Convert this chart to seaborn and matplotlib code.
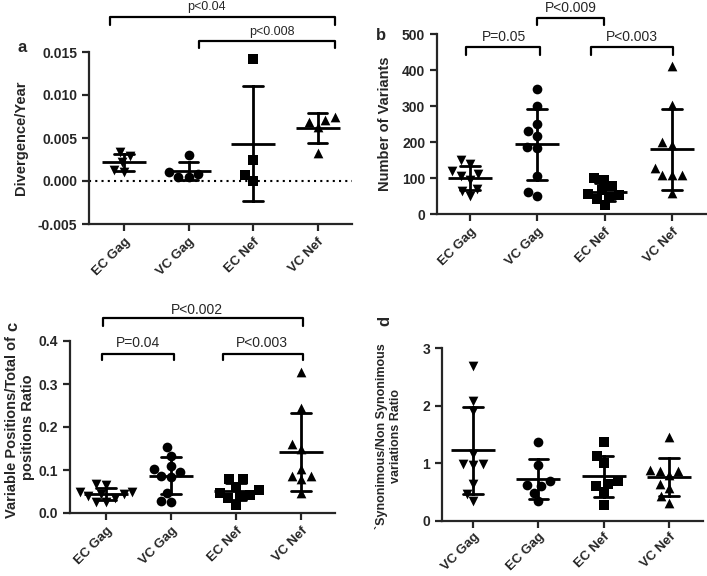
import numpy as np
import pandas as pd
import matplotlib.pyplot as plt
import seaborn as sns

sns.set_style('ticks')
plt.rcParams['font.family'] = ['Liberation Sans', 'DejaVu Sans']
plt.rcParams['font.weight'] = 'bold'
plt.rcParams['axes.labelweight'] = 'bold'
plt.rcParams['axes.unicode_minus'] = False

groups = ['EC Gag', 'VC Gag', 'EC Nef', 'VC Nef']
groups_d = ['VC Gag', 'EC Gag', 'EC Nef', 'VC Nef']
markers = ['v', 'o', 's', '^']

# a - divergence per year
div_ec_gag = [0.0034, 0.0029, 0.0022, 0.0011, 0.0013]
div_vc_gag = [0.0030, 0.00077, 0.00042, 0.0005, 0.0010]
div_ec_nef = [0.0142, 0.0025, 0.0007, 0.0000]
div_vc_nef = [0.0075, 0.0069, 0.0063, 0.0071, 0.0032]

# b - number of variants
var_ec_gag = [150, 140, 120, 110, 105, 95, 70, 65, 50]
var_vc_gag = [347, 300, 251, 230, 217, 184, 187, 105, 51, 61]
var_ec_nef = [100, 95, 78, 68, 55, 52, 48, 42, 24]
var_vc_nef = [412, 302, 200, 191, 128, 108, 108, 108, 58]

# c - variable positions ratio
pos_ec_gag = [0.068, 0.066, 0.050, 0.048, 0.045, 0.044, 0.040, 0.034, 0.026, 0.025]
pos_vc_gag = [0.154, 0.133, 0.103, 0.109, 0.096, 0.086, 0.084, 0.047, 0.026, 0.028]
pos_ec_nef = [0.078, 0.078, 0.061, 0.054, 0.047, 0.042, 0.040, 0.034, 0.019]
pos_vc_nef = [0.327, 0.245, 0.160, 0.149, 0.102, 0.087, 0.079, 0.087, 0.046]

# d - synonymous / non synonymous ratio
syn_vc_gag = [2.69, 2.08, 1.91, 1.16, 0.99, 0.97, 0.98, 0.65, 0.47, 0.34]
syn_ec_gag = [1.37, 0.97, 0.69, 0.61, 0.62, 0.49, 0.34]
syn_ec_nef = [1.37, 1.12, 1.00, 0.69, 0.61, 0.65, 0.50, 0.27]
syn_vc_nef = [1.46, 0.79, 0.87, 0.87, 0.88, 0.65, 0.58, 0.43, 0.32]


def make_df(order, lists):
    return pd.DataFrame({'group': np.repeat(order, [len(v) for v in lists]),
                         'value': np.concatenate(lists)})


def dot_panel(ax, df, order):
    for g, m in zip(order, markers):
        sns.swarmplot(data=df[df['group'] == g], x='group', y='value', order=order,
                      marker=m, color='black', size=7, ax=ax)
    sns.pointplot(data=df, x='group', y='value', order=order, errorbar='sd',
                  capsize=0.3, linestyle='none', marker='_', markersize=32,
                  markeredgewidth=2, color='black', err_kws={'linewidth': 2}, ax=ax)
    ax.set_xlabel('')
    sns.despine(ax=ax)
    for s in ['left', 'bottom']:
        ax.spines[s].set_linewidth(1.6)
    ax.tick_params(width=1.6, length=5, labelsize=10)
    ax.tick_params(axis='x', labelsize=9.5)
    ax.set_xticks(range(len(order)))
    ax.set_xticklabels(order, rotation=45, ha='right', rotation_mode='anchor')


def bracket(ax, x1, x2, y, drop, text, tx, ty, size=10):
    ax.plot([x1, x1, x2, x2], [y - drop, y, y, y - drop], color='black', lw=1.6,
            clip_on=False)
    ax.text(tx, ty, text, ha='center', va='baseline', fontsize=size,
            fontweight='normal', clip_on=False)


W, H = 707, 576
fig = plt.figure(figsize=(W / 100, H / 100), dpi=100)


def px_axes(left, top, right, bottom):
    return fig.add_axes([left / W, 1 - bottom / H, (right - left) / W, (bottom - top) / H])


# panel a
ax = px_axes(89, 52, 352, 224)
dot_panel(ax, make_df(groups, [div_ec_gag, div_vc_gag, div_ec_nef, div_vc_nef]), groups)
ax.axhline(0, color='black', lw=1.5, ls=(0, (1, 2)), zorder=0)
ax.set_ylim(-0.005, 0.015)
ax.set_xlim(-0.54, 3.53)
ax.set_yticks([-0.005, 0.0, 0.005, 0.010, 0.015])
ax.set_yticklabels(['-0.005', '0.000', '0.005', '0.010', '0.015'])
ax.set_ylabel('Divergence/Year', fontsize=10.5)
ax.yaxis.set_label_coords(-0.232, 0.5)
bracket(ax, -0.22, 3.27, 0.01907, 0.00093, 'p<0.04', 1.28, 0.01988, 9)
bracket(ax, 1.16, 3.27, 0.01628, 0.00081, 'p<0.008', 2.29, 0.01698, 9)

# panel b
ax = px_axes(437, 34, 707, 214)
dot_panel(ax, make_df(groups, [var_ec_gag, var_vc_gag, var_ec_nef, var_vc_nef]), groups)
ax.set_ylim(0, 500)
ax.set_xlim(-0.49, 3.52)
ax.set_yticks([0, 100, 200, 300, 400, 500])
ax.set_ylabel('Number of Variants', fontsize=10.5)
ax.yaxis.set_label_coords(-0.167, 0.5)
bracket(ax, -0.06, 1.04, 464, 22, 'P=0.05', 0.5, 481)
bracket(ax, 1.80, 3.02, 464, 22, 'P<0.003', 2.41, 481)
bracket(ax, 1.0, 1.99, 544, 19, 'P<0.009', 1.49, 561)

# panel c
ax = px_axes(70, 341, 335, 513)
dot_panel(ax, make_df(groups, [pos_ec_gag, pos_vc_gag, pos_ec_nef, pos_vc_nef]), groups)
ax.set_ylim(0, 0.4)
ax.set_xlim(-0.55, 3.52)
ax.set_yticks([0.0, 0.1, 0.2, 0.3, 0.4])
ax.set_yticklabels(['0.0', '0.1', '0.2', '0.3', '0.4'])
ax.set_ylabel('Variable Positions/Total of\npositions Ratio', fontsize=10.5)
ax.yaxis.set_label_coords(-0.132, 0.5)
bracket(ax, -0.05, 3.03, 0.4535, 0.0185, 'P<0.002', 1.4, 0.4628)
bracket(ax, -0.06, 1.05, 0.370, 0.014, 'P=0.04', 0.49, 0.386)
bracket(ax, 1.80, 3.03, 0.370, 0.014, 'P<0.003', 2.4, 0.386)

# panel d
ax = px_axes(442, 348, 703, 521)
dot_panel(ax, make_df(groups_d, [syn_vc_gag, syn_ec_gag, syn_ec_nef, syn_vc_nef]), groups_d)
ax.set_ylim(0, 3)
ax.set_xlim(-0.475, 3.52)
ax.set_yticks([0, 1, 2, 3])
ax.set_ylabel('`Synonimous/Non Synonimous\nvariations Ratio', fontsize=9)
ax.yaxis.set_label_coords(-0.153, 0.49)
ax.tick_params(axis='x', pad=2)

# panel letters
fig.text(22 / W, 1 - 47 / H, 'a', fontsize=12, ha='center', va='center')
fig.text(381 / W, 1 - 36 / H, 'b', fontsize=12, ha='center', va='center')
fig.text(13 / W, 1 - 326 / H, 'c', fontsize=12, ha='center', va='center', rotation=90)
fig.text(385 / W, 1 - 321 / H, 'd', fontsize=12, ha='center', va='center', rotation=90)

fig.savefig('out.png', dpi=100)
